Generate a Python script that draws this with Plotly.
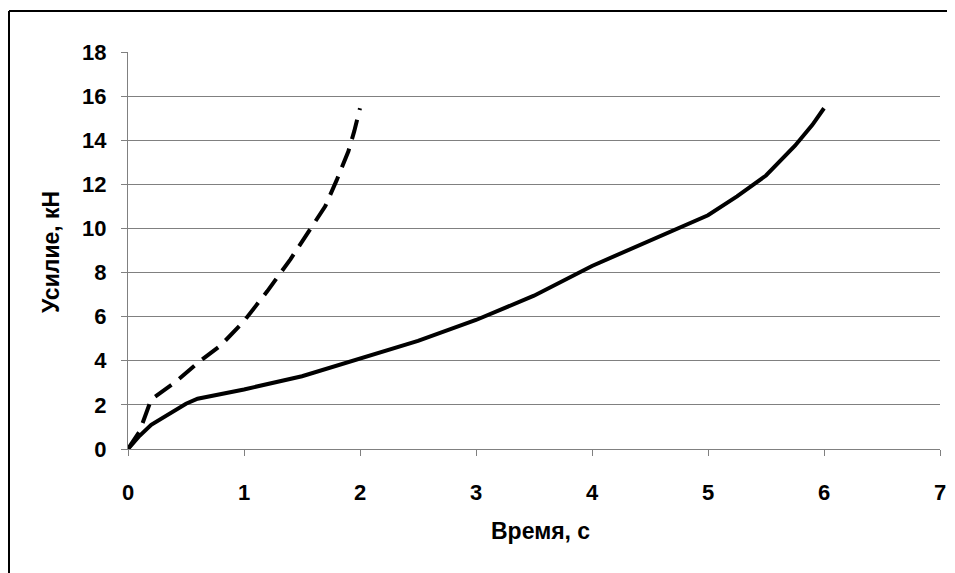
import plotly.graph_objects as go

# Dashed series
t_dash = [0, 0.1, 0.2, 0.4, 0.6, 0.8, 1.0, 1.2, 1.4, 1.6, 1.7, 1.8, 1.9, 1.95, 2.0]
f_dash = [0, 0.8, 2.25, 3.0, 3.9, 4.7, 5.8, 7.15, 8.6, 10.15, 11.0, 12.2, 13.5, 14.4, 15.45]

# Solid series
t_solid = [0, 0.1, 0.2, 0.4, 0.5, 0.6, 1.0, 1.5, 2.0, 2.5, 3.0, 3.5, 4.0, 4.5, 5.0, 5.25, 5.5, 5.75, 5.9, 6.0]
f_solid = [0, 0.6, 1.1, 1.75, 2.05, 2.28, 2.7, 3.3, 4.12, 4.9, 5.85, 6.95, 8.3, 9.45, 10.6, 11.45, 12.4, 13.75, 14.7, 15.45]

x_ticks = [0, 1, 2, 3, 4, 5, 6, 7]
y_ticks = [0, 2, 4, 6, 8, 10, 12, 14, 16, 18]

W, H = 947, 565
L, R, T, B = 120, 15, 44, 124
PW, PH = W - L - R, H - T - B

fig = go.Figure()
fig.add_trace(go.Scatter(x=t_dash, y=f_dash, mode="lines",
                         line=dict(color="black", width=4, dash="20px,10px"),
                         showlegend=False))
fig.add_trace(go.Scatter(x=t_solid, y=f_solid, mode="lines",
                         line=dict(color="black", width=4),
                         showlegend=False))

tickfont = dict(family="Liberation Sans, Arial, sans-serif", size=22, color="black", weight="bold")
titlefont = dict(family="Liberation Sans, Arial, sans-serif", size=23, color="black", weight="bold")

fig.update_layout(
    width=W, height=H,
    margin=dict(l=L, r=R, t=T, b=B, autoexpand=False),
    paper_bgcolor="white", plot_bgcolor="white",
    xaxis=dict(range=[0, 7], tickvals=x_ticks, showgrid=False, zeroline=False,
               showline=True, linecolor="#808080", linewidth=1,
               ticks="outside", ticklen=6, tickcolor="#808080",
               tickfont=tickfont, ticklabelstandoff=18),
    yaxis=dict(range=[0, 18], tickvals=y_ticks, showgrid=True, gridcolor="#808080", gridwidth=1,
               zeroline=False, showline=True, linecolor="#808080", linewidth=1,
               ticks="outside", ticklen=6, tickcolor="#808080",
               tickfont=tickfont, ticklabelstandoff=10),
    annotations=[
        dict(text="Время, с", xref="paper", yref="paper",
             x=(532 - L) / PW, y=-(523 - (T + PH)) / PH,
             xanchor="center", yanchor="middle", showarrow=False, font=titlefont),
        dict(text="Усилие, кН", xref="paper", yref="paper",
             x=(43 - L) / PW, y=((T + PH) - 244) / PH, textangle=-90,
             xanchor="center", yanchor="middle", showarrow=False, font=titlefont),
    ],
)

# Frame around chart: only top and left edges are inside the picture
fx0 = (1 - L) / PW
fy1 = 1 + (T - 3) / PH
fig.add_shape(type="line", xref="paper", yref="paper",
              x0=fx0, x1=1 + (R + 20) / PW, y0=fy1, y1=fy1,
              line=dict(color="black", width=2), layer="below")
fig.add_shape(type="line", xref="paper", yref="paper",
              x0=fx0, x1=fx0, y0=fy1, y1=-(B + 20) / PH,
              line=dict(color="black", width=2), layer="below")

fig.write_html("out.html")
